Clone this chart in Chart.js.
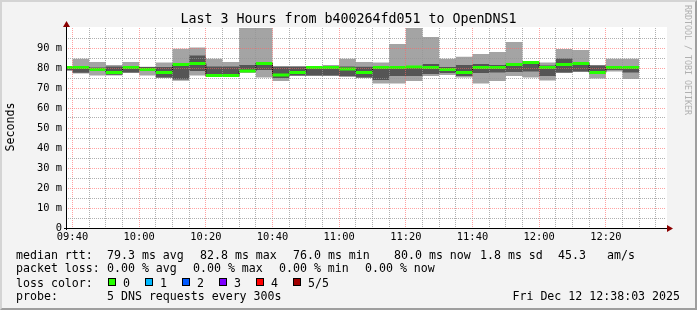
<!DOCTYPE html>
<html><head><meta charset="utf-8">
<script src="https://cdn.jsdelivr.net/npm/chart.js@4.4.1/dist/chart.umd.min.js"></script>
<style>
html,body{margin:0;padding:0;background:#f3f3f3;}
#wrap{position:relative;width:697px;height:310px;background:#f3f3f3;overflow:hidden;font-family:'DejaVu Sans Mono',monospace;color:#000;}
#frame{position:absolute;left:0;top:0;width:697px;height:310px;box-sizing:border-box;border-top:2px solid #d4d4d4;border-left:2px solid #d4d4d4;border-right:2px solid #9e9e9e;border-bottom:2px solid #9e9e9e;pointer-events:none;}
canvas{position:absolute;left:0;top:0;}
.t{position:absolute;white-space:pre;font-size:11.6px;line-height:14px;}
#title{position:absolute;left:0;top:11px;width:697px;text-align:center;font-size:13.3px;line-height:16px;white-space:pre;}
#ylab{position:absolute;left:-40px;top:120px;width:100px;height:14px;line-height:14px;text-align:center;font-size:11.6px;transform:rotate(-90deg);}
#wm{position:absolute;left:683px;top:5px;writing-mode:vertical-rl;font-size:8.3px;line-height:9px;color:#b0b0b0;white-space:pre;}
.sw{position:absolute;width:8px;height:8px;box-sizing:border-box;border:1px solid #000;}
</style></head>
<body>
<div id="wrap">
<canvas id="c" width="697" height="310"></canvas>
<div id="title">Last 3 Hours from b400264fd051 to OpenDNS1</div>
<div id="ylab">Seconds</div>
<div id="wm">RRDTOOL / TOBI OETIKER</div>
<div id="legend"></div>
<div id="frame"></div>
</div>
<script>
// ---- data (ms) ----
const STEP = 5; // minutes between probes (300 s)
const segStart = ['09:35','09:40','09:45','09:50','09:55','10:00','10:05','10:10','10:15','10:20','10:25',
  '10:30','10:35','10:40','10:45','10:50','10:55','11:00','11:05','11:10','11:15','11:20','11:25','11:30',
  '11:35','11:40','11:45','11:50','11:55','12:00','12:05','12:10','12:15','12:20','12:25'];
const pingMin = [78.5,77.3,76.2,76.3,77.5,76.2,75.0,73.6,76.2,75.8,75.8,77.5,75.2,73.5,76.0,76.0,76.0,75.5,75.0,72.3,72.3,73.5,76.0,76.5,75.3,72.3,73.5,76.0,75.2,73.7,77.5,78.0,74.7,78.2,74.5];
const pingLo  = [79.0,77.6,78.7,76.6,77.7,78.8,75.2,74.3,78.5,76.0,76.0,78.0,79.0,75.0,76.2,76.2,76.2,76.0,75.3,74.0,76.0,76.0,77.0,77.5,76.0,77.5,77.7,78.0,78.3,76.0,77.7,78.3,77.5,79.0,77.7];
const median  = [80.3,80.3,79.3,77.7,80.3,79.3,77.7,81.7,82.2,76.3,76.3,78.5,82.2,76.5,77.7,80.3,80.3,79.5,77.7,80.3,80.3,80.5,80.3,79.3,77.8,80.3,80.3,81.8,82.8,80.3,81.8,82.2,77.8,80.3,80.3];
const pingHi  = [80.8,80.6,80.2,80.7,80.6,80.5,80.5,82.0,86.2,80.7,80.7,81.5,82.5,80.7,80.7,80.5,80.6,80.7,80.6,80.6,80.6,81.0,82.0,80.5,81.5,82.0,81.5,82.0,83.2,81.3,84.8,82.5,81.3,80.6,80.5];
const pingMax = [81.0,84.6,83.0,81.5,83.0,80.6,82.7,89.6,90.2,84.6,83.0,110,110,80.8,80.8,80.7,81.5,84.6,83.0,82.7,92.0,110,95.5,84.6,85.6,87.0,88.0,93.0,83.5,82.7,89.5,89.0,81.5,84.6,84.6];
const xTickLabels = ['09:40','10:00','10:20','10:40','11:00','11:20','11:40','12:00','12:20'];
const yTickValues = [0,10,20,30,40,50,60,70,80,90];
const yTickLabels = ['0','10 m','20 m','30 m','40 m','50 m','60 m','70 m','80 m','90 m'];
const timeStart = '09:38:03', timeEnd = '12:38:03';

const legendRows = [
  {y:248, items:[['median rtt:',16],['79.3 ms avg',107],['82.8 ms max',200],['76.0 ms min',293],['80.0 ms now',394],['1.8 ms sd',480],['45.3',558],['am/s',607]]},
  {y:261, items:[['packet loss:',16],['0.00 % avg',107],['0.00 % max',193],['0.00 % min',279],['0.00 % now',365]]},
  {y:275.5, items:[['loss color:',16]]},
  {y:289, items:[['probe:',16],['5 DNS requests every 300s',107]]}
];
const lossColors = [['0','#26ff00'],['1','#00b8ff'],['2','#0059ff'],['3','#7e00ff'],['4','#ff0000'],['5/5','#a00000']];
const dateText = 'Fri Dec 12 12:38:03 2025';

// ---- legend html ----
const lg = document.getElementById('legend');
legendRows.forEach(r => r.items.forEach(([txt,x]) => {
  const d = document.createElement('div'); d.className='t'; d.style.left=x+'px'; d.style.top=r.y+'px'; d.textContent=txt; lg.appendChild(d);
}));
lossColors.forEach(([lab,col],i) => {
  const s = document.createElement('div'); s.className='sw'; s.style.left=(108+i*37)+'px'; s.style.top='278px'; s.style.background=col; lg.appendChild(s);
  const d = document.createElement('div'); d.className='t'; d.style.left=(123+i*37)+'px'; d.style.top='275.5px'; d.textContent=lab; lg.appendChild(d);
});
const dd = document.createElement('div'); dd.className='t'; dd.style.right='17px'; dd.style.top='289px'; dd.textContent=dateText; lg.appendChild(dd);

// ---- helpers ----
function toMin(t){ const p=t.split(':').map(Number); return p[0]*60+p[1]+(p[2]||0)/60; }
function fmt(m){ const h=Math.floor(m/60), mm=Math.round(m-h*60); return String(h).padStart(2,'0')+':'+String(mm).padStart(2,'0'); }
// value i holds from segStart[i] to segStart[i]+STEP
function stepData(vals){
  const pts = segStart.map((t,i)=>({x:toMin(t), y:vals[i]}));
  pts.push({x:toMin(segStart[segStart.length-1])+STEP, y:vals[vals.length-1]});
  return pts;
}
function segData(vals){
  const pts=[];
  segStart.forEach((t,i)=>{ const x0=toMin(t); pts.push({x:x0,y:vals[i]},{x:x0+STEP,y:vals[i]},{x:x0+STEP,y:null}); });
  return pts;
}
const X0 = toMin(timeStart), X1 = toMin(timeEnd);
const xTicks = []; for (let m=Math.ceil(X0/STEP)*STEP; m<=X1; m+=STEP) xTicks.push(m);
const yTicks = []; for (let v=0; v<100; v+=5) yTicks.push(v);

const GRID_MINOR = 'rgba(150,150,150,0.75)';
const GRID_MAJOR = 'rgba(255,100,100,0.6)';
const FONT = {family:'DejaVu Sans Mono', size:10.4};

const bgPlugin = {
  id:'bg',
  beforeDraw(chart){ const {ctx, chartArea:a} = chart; ctx.save(); ctx.fillStyle='#fff'; ctx.fillRect(a.left, a.top-1, a.right-a.left+1, a.bottom-a.top+1); ctx.restore(); },
  afterDraw(chart){
    const {ctx, chartArea:a} = chart; ctx.save();
    ctx.strokeStyle='#000'; ctx.lineWidth=1;
    ctx.beginPath(); ctx.moveTo(a.left+0.5, a.bottom+2); ctx.lineTo(a.left+0.5, a.top-3);
    ctx.moveTo(a.left-2, a.bottom+0.5); ctx.lineTo(a.right+2, a.bottom+0.5); ctx.stroke();
    ctx.fillStyle='#8b0000';
    ctx.beginPath(); ctx.moveTo(a.left+0.5, a.top-7); ctx.lineTo(a.left-3, a.top-1); ctx.lineTo(a.left+4, a.top-1); ctx.closePath(); ctx.fill();
    ctx.beginPath(); ctx.moveTo(a.right+7, a.bottom+0.5); ctx.lineTo(a.right+1, a.bottom-3); ctx.lineTo(a.right+1, a.bottom+4); ctx.closePath(); ctx.fill();
    ctx.restore();
  }
};

// Chart.js 'before' = hold the previous value until the next point (RRD step)
const common = {stepped:'before', pointRadius:0, borderWidth:0, borderColor:'transparent'};
new Chart(document.getElementById('c'), {
  type:'line',
  data:{datasets:[
    {...common, label:'max', data:stepData(pingMax), fill:'+1', backgroundColor:'#a4a4a4', order:6},
    {...common, label:'min', data:stepData(pingMin), fill:false, order:5},
    {...common, label:'hi', data:stepData(pingHi), fill:'+1', backgroundColor:'#555555', order:4},
    {...common, label:'lo', data:stepData(pingLo), fill:false, order:3},
    {stepped:'before', pointRadius:0, label:'medline', data:stepData(median), borderWidth:1, borderColor:'#111', fill:false, order:2},
    {label:'median', data:segData(median), borderWidth:3, borderColor:'#26ff00', borderCapStyle:'butt', pointRadius:0, fill:false, spanGaps:false, order:1, clip:0}
  ]},
  options:{
    responsive:false, animation:false, devicePixelRatio:1,
    layout:{padding:{left:0, top:28, right:31, bottom:0}},
    plugins:{legend:{display:false}, tooltip:{enabled:false}, title:{display:false}},
    scales:{
      x:{type:'linear', min:X0, max:X1,
        afterFit:s=>{ s.height = 82; },
        afterBuildTicks:s=>{ s.ticks = xTicks.map(v=>({value:v})); },
        grid:{z:1, drawTicks:false, lineWidth:1, borderDash:[1,1], color:c=> xTickLabels.includes(fmt(c.tick.value)) ? GRID_MAJOR : GRID_MINOR},
        border:{display:false, dash:[1,1]},
        ticks:{autoSkip:false, maxRotation:0, minRotation:0, padding:3, font:FONT, color:'#000',
          callback:v=>{ const l=fmt(v); return xTickLabels.includes(l) ? l : ''; }}
      },
      y:{type:'linear', min:0, max:100,
        afterFit:s=>{ s.width = 66; },
        afterBuildTicks:s=>{ s.ticks = yTicks.map(v=>({value:v})); },
        grid:{z:1, drawTicks:false, lineWidth:1, borderDash:[1,1], color:c=> c.tick.value===0 ? 'transparent' : (yTickValues.includes(c.tick.value) ? GRID_MAJOR : GRID_MINOR)},
        border:{display:false, dash:[1,1]},
        ticks:{autoSkip:false, padding:4, font:FONT, color:'#000',
          callback:v=>{ const i=yTickValues.indexOf(v); return i>=0 ? yTickLabels[i] : ''; }}
      }
    }
  },
  plugins:[bgPlugin]
});
</script>
</body></html>
